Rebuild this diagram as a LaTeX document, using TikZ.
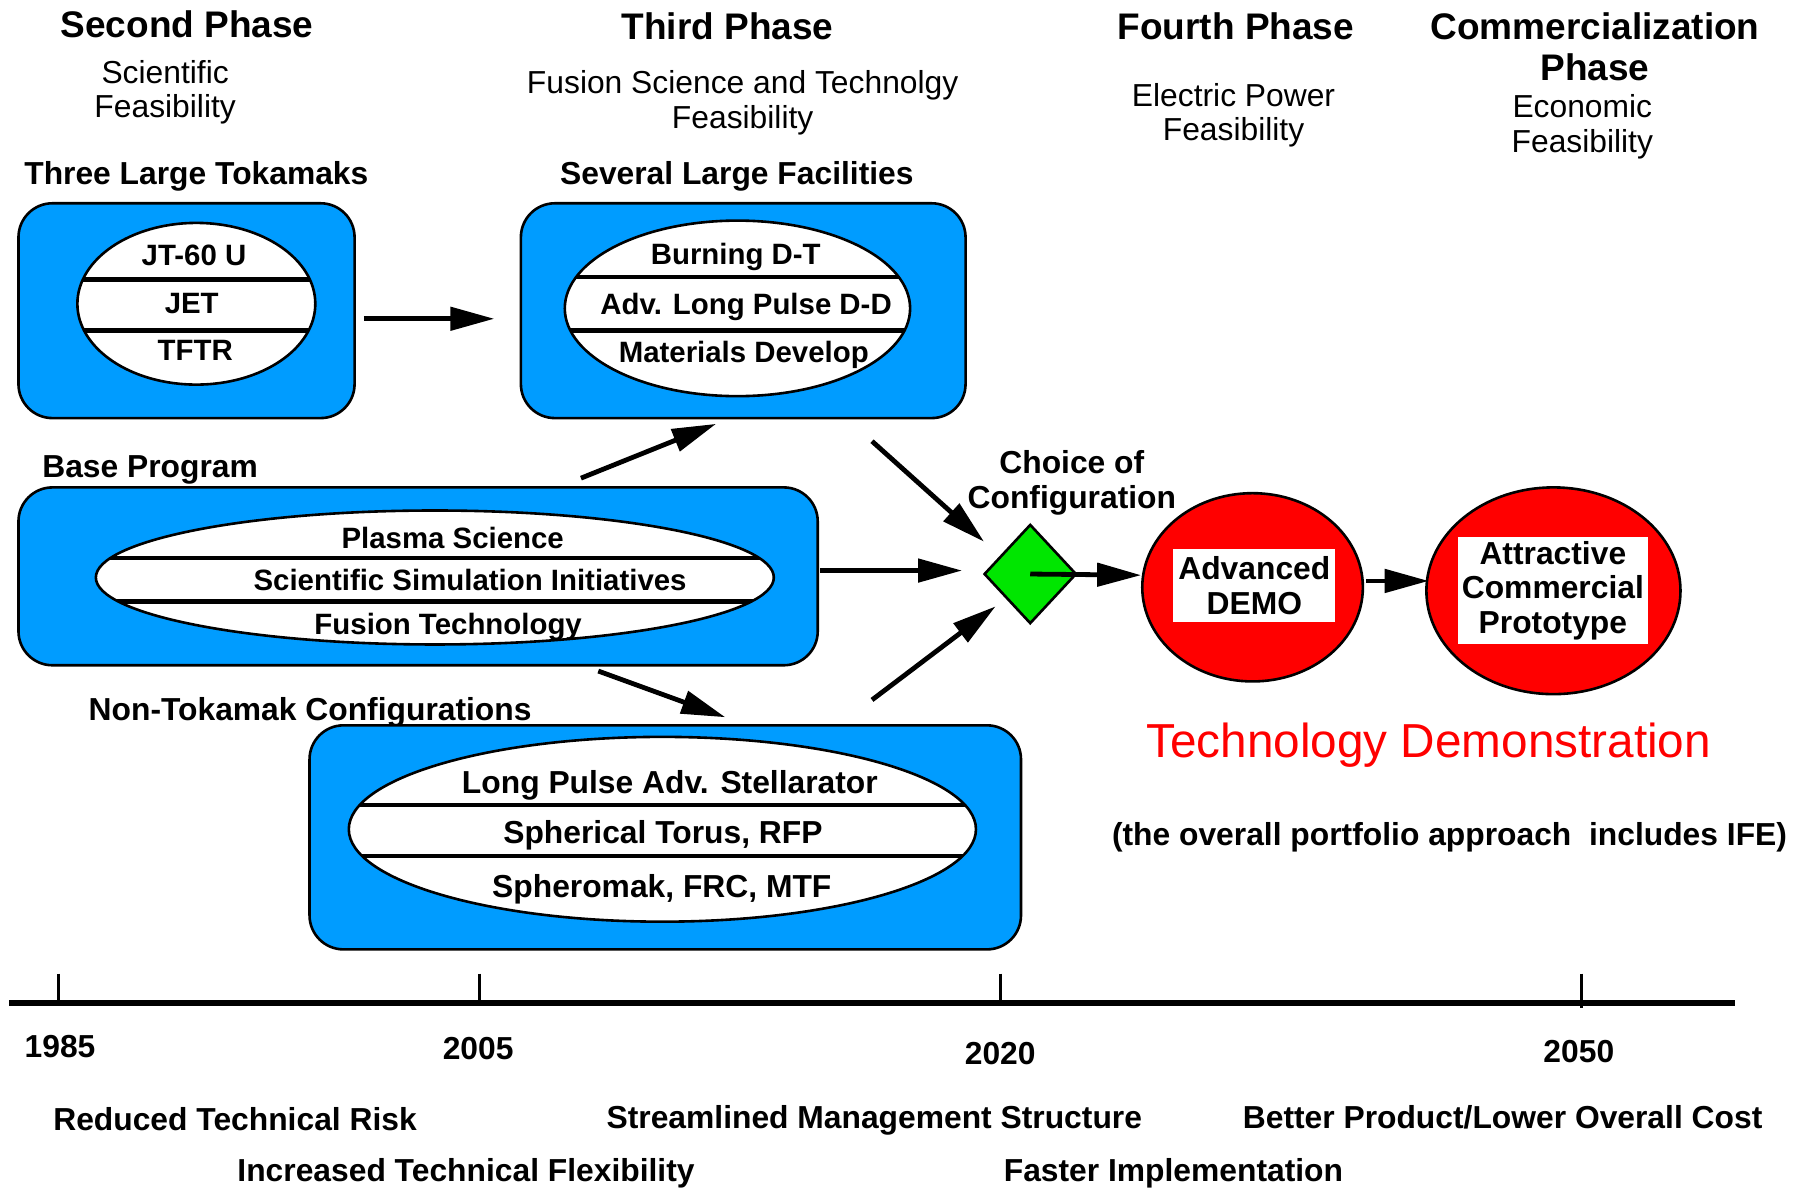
\documentclass[tikz,border=0pt]{standalone}
\usepackage{fontspec}
\setmainfont{Liberation Sans}
\usetikzlibrary{arrows.meta,shapes.geometric,calc}

\definecolor{panelblue}{RGB}{0,156,255}
\definecolor{choicegreen}{RGB}{0,230,0}
\definecolor{demored}{RGB}{255,0,0}

% one drawing unit
\newcommand{\unitpx}{0.5775pt}

% type sizes
\newcommand{\fHead}{\bfseries\fontsize{18.5pt}{20.2pt}\selectfont}
\newcommand{\fSub}{\fontsize{15.9pt}{17.3pt}\selectfont}
\newcommand{\fLab}{\bfseries\fontsize{15.9pt}{17.3pt}\selectfont}
\newcommand{\fIn}{\bfseries\fontsize{14.7pt}{16pt}\selectfont}
\newcommand{\fBig}{\fontsize{23.85pt}{26pt}\selectfont}

\begin{document}
\begin{tikzpicture}[x=0.5775pt,y=-0.5775pt,
  panel/.style={draw, line width=1.3pt, fill=panelblue, rounded corners=17pt, inner sep=0pt},
  stack/.style={ellipse, draw, line width=1.3pt, fill=white, inner sep=0pt},
  seps/.style 2 args={path picture={
      \draw[line width=2.3pt] ([yshift=#1]path picture bounding box.west) -- ([yshift=#1]path picture bounding box.east);
      \draw[line width=2.3pt] ([yshift=#2]path picture bounding box.west) -- ([yshift=#2]path picture bounding box.east);
  }},
  txt/.style={inner sep=0pt, align=center, text depth=0pt},
  head/.style={txt, font=\fHead},
  sub/.style={txt, font=\fSub},
  lab/.style={txt, font=\fLab},
  intext/.style={txt, font=\fIn},
  arr/.style={line width=2.4pt, -{Triangle[length=22pt, width=11.5pt]}},
  goal/.style={ellipse, draw, line width=1.3pt, fill=demored, inner sep=0pt},
  plate/.style={rectangle, fill=white, inner sep=0pt, align=center, font=\fLab}
]
\useasboundingbox (0,0) rectangle (1568,1028);

% phase headings
\node[head] (ph2) at (162,21) {Second Phase};
\node[head] (ph3) at (630,23) {Third Phase};
\node[head] (ph4) at (1070,23) {Fourth Phase};
\node[head] (ph5) at (1381,40.5) {Commercialization\\Phase};

\node[sub] (ph2s) at (143,77) {Scientific\\Feasibility};
\node[sub] (ph3s) at (643,86) {Fusion Science and Technolgy\\Feasibility};
\node[sub] (ph4s) at (1068,97) {Electric Power\\Feasibility};
\node[sub] (ph5s) at (1370,107) {Economic\\Feasibility};

% group labels
\node[lab] (tokl) at (170,150) {Three Large Tokamaks};
\node[lab] (facl) at (638,150) {Several Large Facilities};
\node[lab] (basel) at (130,404) {Base Program};
\node[lab] (ntkl) at (268.5,614) {Non-Tokamak Configurations};

% three large tokamaks
\node[panel, minimum width=291*\unitpx, minimum height=186*\unitpx] (tok) at (161.5,269) {};
\node[stack, minimum width=206*\unitpx, minimum height=140*\unitpx,
      seps={21*\unitpx}{-23*\unitpx}] (tokstack) at (170,263) {};
\node[intext] (jt) at (168,221) {JT-60 U};
\node[intext] (jet) at (166,263) {JET};
\node[intext] (tftr) at (169,303) {TFTR};

% several large facilities
\node[panel, minimum width=385*\unitpx, minimum height=186*\unitpx] (fac) at (643.5,269) {};
\node[stack, minimum width=299*\unitpx, minimum height=152*\unitpx,
      seps={27*\unitpx}{-19*\unitpx}] (facstack) at (638.5,267) {};
\node[intext] (dt) at (637,220) {Burning D-T};
\node[intext] (dd) at (646,263) {Adv. Long Pulse D-D};
\node[intext] (mat) at (644,305) {Materials Develop};

% base program
\node[panel, minimum width=692*\unitpx, minimum height=154*\unitpx] (base) at (362,499) {};
\node[stack, minimum width=587*\unitpx, minimum height=116*\unitpx,
      seps={17*\unitpx}{-21*\unitpx}] (basestack) at (376.5,500) {};
\node[intext] (plasma) at (392,466) {Plasma Science};
\node[intext] (simul) at (407,502) {Scientific Simulation Initiatives};
\node[intext] (fustech) at (388,540) {Fusion Technology};

% non-tokamak configurations
\node[panel, minimum width=616*\unitpx, minimum height=194*\unitpx] (ntk) at (576,725) {};
\node[stack, minimum width=543*\unitpx, minimum height=160*\unitpx,
      seps={21*\unitpx}{-23*\unitpx}] (ntkstack) at (573.5,718) {};
\node[lab] (stell) at (580,677) {Long Pulse Adv. Stellarator};
\node[lab] (torus) at (574,720) {Spherical Torus, RFP};
\node[lab] (sphero) at (573,767) {Spheromak, FRC, MTF};

% choice of configuration
\node[lab] (choicel) at (928,415) {Choice of\\Configuration};
\node[diamond, draw, fill=choicegreen, line width=1.3pt, inner sep=0pt,
      minimum width=80*\unitpx, minimum height=86*\unitpx] (choice) at (892,497) {};

% demonstration steps
\node[goal, minimum width=191*\unitpx, minimum height=163*\unitpx] (demo) at (1084.5,508.5) {};
\node[plate, minimum width=140*\unitpx, minimum height=63*\unitpx] (demot) at (1086,507) {Advanced\\DEMO};
\node[goal, minimum width=220*\unitpx, minimum height=179*\unitpx] (proto) at (1345,511.5) {};
\node[plate, minimum width=165*\unitpx, minimum height=93*\unitpx] (protot) at (1344.5,511.5) {Attractive\\Commercial\\Prototype};

\node[txt, font=\fBig, text=demored] (techdemo) at (1237,641) {Technology Demonstration};
\node[lab] (ife) at (1255,722) {(the overall portfolio approach\ \ includes IFE)};

% connector end points
\coordinate (tokout) at (315,276);   \coordinate (facin) at (428,276);
\coordinate (baseup) at (503,414);   \coordinate (facbot) at (620,367);
\coordinate (basedn) at (518,581);   \coordinate (ntktop) at (628,621);
\coordinate (baseout) at (710,494);  \coordinate (chw) at (833,494);
\coordinate (facout) at (755,382);   \coordinate (chnw) at (852,469);
\coordinate (ntkout) at (755,606);   \coordinate (chsw) at (862,525);
\coordinate (demoin) at (988,498);
\coordinate (demoout) at (1183,503); \coordinate (protoin) at (1237,503);

\draw[arr] (tokout) -- (facin);
\draw[arr] (baseup) -- (facbot);
\draw[arr] (basedn) -- (ntktop);
\draw[arr] (baseout) -- (chw);
\draw[arr] (facout) -- (chnw);
\draw[arr] (ntkout) -- (chsw);
\draw[arr] (choice.center) -- (demoin);
\draw[arr] (demoout) -- (protoin);

% time axis
\draw[line width=3pt] (8,868) -- (1502,868);
\draw[line width=1.5pt] (51,843) -- (51,868);
\draw[line width=1.5pt] (415,843) -- (415,868);
\draw[line width=1.5pt] (866,843) -- (866,868);
\draw[line width=1.5pt] (1369,843) -- (1369,873);

\node[lab] (y1985) at (52,906) {1985};
\node[lab] (y2005) at (414,908) {2005};
\node[lab] (y2020) at (866,912) {2020};
\node[lab] (y2050) at (1367,910) {2050};

% benefits
\node[lab] (risk) at (203.5,969) {Reduced Technical Risk};
\node[lab] (mgmt) at (757,967) {Streamlined Management Structure};
\node[lab] (cost) at (1301,967) {Better Product/Lower Overall Cost};
\node[lab] (flex) at (403.5,1013) {Increased Technical Flexibility};
\node[lab] (fast) at (1016,1013) {Faster Implementation};
\end{tikzpicture}
\end{document}
